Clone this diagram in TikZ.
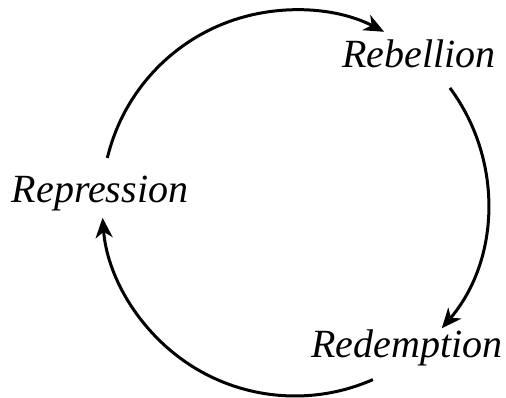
\documentclass[tikz,border=0pt]{standalone}
\usepackage{fontspec}
\setmainfont{Liberation Serif}[ItalicFont={Liberation Serif Italic}]
\usetikzlibrary{arrows.meta,calc}
\begin{document}
\begin{tikzpicture}[x=1pt,y=1pt]
\tikzset{lbl/.style={font=\fontsize{40}{48}\selectfont\itshape, anchor=base, inner sep=0pt}}
\tikzset{cyc/.style={line width=3pt, arrows={-Stealth[length=20pt,width=17pt,inset=6pt]}}}
\useasboundingbox (0,0) rectangle (506,398);
\coordinate (c) at (295,195);
\node[lbl] (rep) at (100,195) {Repression};
\node[lbl] (reb) at (419,330) {Rebellion};
\node[lbl] (red) at (407,40) {Redemption};
\coordinate (s1) at ($(c)+(166.5:193)$);
\coordinate (s2) at ($(c)+(36.6:193)$);
\coordinate (s3) at ($(c)+(-66.2:193)$);
\draw[cyc] (s1) arc[start angle=166.5, end angle=62.5, radius=193];
\draw[cyc] (s2) arc[start angle=36.6, end angle=-40.5, radius=193];
\draw[cyc] (s3) arc[start angle=-66.2, end angle=-175.6, radius=193];
\end{tikzpicture}
\end{document}
